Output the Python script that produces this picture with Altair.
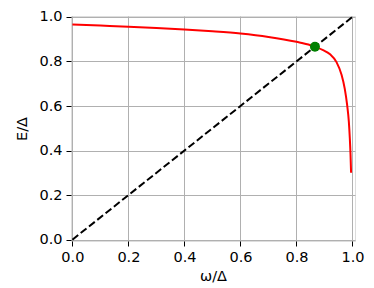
import altair as alt
import pandas as pd

# Red curve E/Δ vs ω/Δ
curve_x = [0.0, 0.1, 0.2, 0.3, 0.4, 0.5, 0.6, 0.7, 0.8, 0.85, 0.866, 0.895, 0.92, 0.943, 0.961, 0.9725, 0.981, 0.987, 0.9905, 0.993, 0.995]
curve_y = [0.966, 0.961, 0.956, 0.950, 0.943, 0.935, 0.925, 0.910, 0.888, 0.873, 0.866, 0.851, 0.832, 0.797, 0.740, 0.677, 0.604, 0.530, 0.455, 0.382, 0.300]

# Dashed diagonal
diag_x = [0.0, 1.0]
diag_y = [0.0, 1.0]

# Green intersection point
pt_x = [0.866]
pt_y = [0.866]

ticks = [0.0, 0.2, 0.4, 0.6, 0.8, 1.0]

curve = pd.DataFrame({"x": curve_x, "y": curve_y})
diag = pd.DataFrame({"x": diag_x, "y": diag_y})
pt = pd.DataFrame({"x": pt_x, "y": pt_y})

FONT = "DejaVu Sans"

xs = alt.Scale(domain=[-0.005, 1.009], nice=False, zero=False)
ys = alt.Scale(domain=[-0.006, 1.004], nice=False, zero=False)

xax = alt.Axis(values=ticks, format=".1f", title="ω/Δ", grid=True,
               gridColor="#b0b0b0", gridWidth=1, domain=False,
               tickColor="black", tickSize=5, tickWidth=1,
               labelFont=FONT, labelFontSize=14.5, labelColor="black",
               labelPadding=4, titleFont=FONT, titleFontSize=14.5,
               titleFontWeight="normal", titleColor="black", titlePadding=6)
yax = alt.Axis(values=ticks, format=".1f", title="E/Δ", grid=True,
               gridColor="#b0b0b0", gridWidth=1, domain=False,
               tickColor="black", tickSize=5, tickWidth=1,
               labelFont=FONT, labelFontSize=14.5, labelColor="black",
               labelPadding=4, titleFont=FONT, titleFontSize=14.5,
               titleFontWeight="normal", titleColor="black", titlePadding=9)

base_x = alt.X("x:Q", scale=xs, axis=xax)
base_y = alt.Y("y:Q", scale=ys, axis=yax)

red = alt.Chart(curve).mark_line(color="#ff0000", strokeWidth=2, interpolate="monotone", clip=True).encode(
    x=base_x, y=base_y, order="x:Q")
dash = alt.Chart(diag).mark_line(color="black", strokeWidth=2, strokeDash=[7.4, 3.2]).encode(
    x=alt.X("x:Q", scale=xs), y=alt.Y("y:Q", scale=ys))
dot = alt.Chart(pt).mark_point(filled=True, color="#008000", size=100, opacity=1).encode(
    x=alt.X("x:Q", scale=xs), y=alt.Y("y:Q", scale=ys))

chart = alt.layer(red, dash, dot).properties(
    width=284, height=225,
    autosize=alt.AutoSizeParams(type="none"),
    padding={"left": 63, "top": 8, "right": 10, "bottom": 47},
).configure_view(stroke="black", strokeWidth=2.5).configure(background="white")

chart.save("out.html", embed_options={"renderer": "svg", "actions": False})
